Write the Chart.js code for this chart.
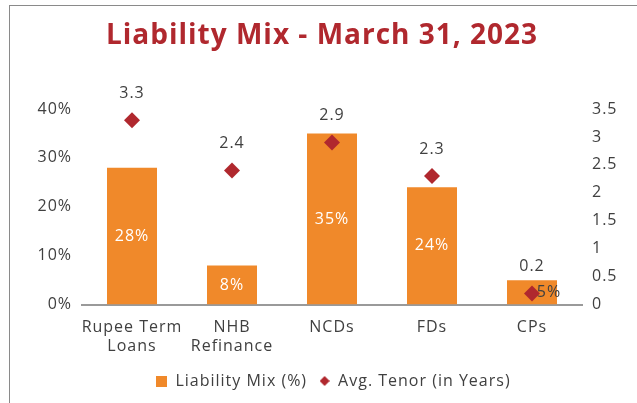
<!DOCTYPE html>
<html>
<head>
<meta charset="utf-8">
<script src="https://cdn.jsdelivr.net/npm/chart.js@4"></script>
<style>
  html, body { margin: 0; padding: 0; background: #fff; }
  #wrap { position: relative; width: 637px; height: 403px; }
  #frame { position: absolute; left: 9px; top: 5px; right: -5px; bottom: -5px; border: 1.5px solid #8a8a8a; }
  canvas { position: absolute; left: 0; top: 0; }
</style>
</head>
<body>
<div id="wrap">
  <div id="frame"></div>
  <canvas id="mixChart" width="637" height="403"></canvas>
</div>
<script>
// data
const categories = [['Rupee Term', 'Loans'], ['NHB', 'Refinance'], 'NCDs', 'FDs', 'CPs'];
const liabilityMix = [28, 8, 35, 24, 5];
const avgTenor = [3.3, 2.4, 2.9, 2.3, 0.2];
const mixTicks = [0, 10, 20, 30, 40];
const tenorTicks = [0, 0.5, 1, 1.5, 2, 2.5, 3, 3.5];
const chartTitle = 'Liability Mix - March 31, 2023';

const orange = '#F0892A';
const darkRed = '#B0282E';
const textGrey = '#404040';
const font = '"Open Sans", Lato, sans-serif';

// small legend markers
function marker(size, diamond, color) {
    const c = document.createElement('canvas');
    c.width = size;
    c.height = size;
    const g = c.getContext('2d');
    g.fillStyle = color;
    if (diamond) {
        g.beginPath();
        g.moveTo(size / 2, 0);
        g.lineTo(size, size / 2);
        g.lineTo(size / 2, size);
        g.lineTo(0, size / 2);
        g.closePath();
        g.fill();
    } else {
        g.fillRect(0, 0, size, size);
    }
    return c;
}
const legendMarkers = [marker(11, false, orange), marker(10, true, darkRed)];

// the reference font is wider, so space letters out a bit
const spacing = {
    id: 'spacing',
    beforeLayout(chart) { chart.ctx.letterSpacing = '1px'; },
    afterLayout(chart) {
        // legend sits a little right of centre
        chart.legend.left += 12;
        chart.legend.right += 12;
    },
    beforeDraw(chart) { chart.ctx.letterSpacing = '1px'; }
};

// title + value labels on bars and diamonds
const valueLabels = {
    id: 'valueLabels',
    afterDatasetsDraw(chart) {
        const ctx = chart.ctx;
        ctx.save();
        ctx.font = '16px ' + font;
        ctx.textAlign = 'center';
        ctx.textBaseline = 'middle';

        const barMeta = chart.getDatasetMeta(0);
        barMeta.data.forEach((bar, i) => {
            const v = liabilityMix[i];
            const y = (bar.y + bar.base) / 2;
            if (v < 6) {
                ctx.fillStyle = textGrey;
                ctx.fillText(v + '%', bar.x + 17, y);
            } else {
                ctx.fillStyle = '#fff';
                ctx.fillText(v + '%', bar.x, y);
            }
        });

        const lineMeta = chart.getDatasetMeta(1);
        ctx.fillStyle = textGrey;
        lineMeta.data.forEach((pt, i) => {
            ctx.fillText(avgTenor[i].toFixed(1), pt.x, pt.y - 27);
        });

        ctx.letterSpacing = '1px';
        ctx.font = 'bold 28px ' + font;
        ctx.fillStyle = darkRed;
        ctx.textBaseline = 'alphabetic';
        ctx.fillText(chartTitle, 322, 44);
        ctx.restore();
    }
};

const mixChart = new Chart(document.getElementById('mixChart').getContext('2d'), {
    data: {
        labels: categories,
        datasets: [{
            type: 'bar',
            label: 'Liability Mix (%)',
            data: liabilityMix,
            backgroundColor: orange,
            yAxisID: 'y',
            barPercentage: 0.5,
            categoryPercentage: 1.0,
            order: 2
        }, {
            type: 'line',
            label: 'Avg. Tenor (in Years)',
            data: avgTenor,
            yAxisID: 'y1',
            showLine: false,
            pointStyle: 'rectRot',
            pointRadius: 8,
            pointHoverRadius: 8,
            backgroundColor: darkRed,
            borderColor: darkRed,
            borderWidth: 0,
            order: 1
        }]
    },
    options: {
        responsive: false,
        animation: false,
        layout: {
            padding: { left: 18, right: 12, top: 109, bottom: 4 }
        },
        plugins: {
            title: { display: false },
            legend: {
                position: 'bottom',
                labels: {
                    usePointStyle: true,
                    boxWidth: 11,
                    boxHeight: 11,
                    color: textGrey,
                    font: { family: font, size: 16 },
                    padding: 12,
                    sort: (a, b) => a.datasetIndex - b.datasetIndex,
                    generateLabels: (chart) => {
                        const items = Chart.defaults.plugins.legend.labels.generateLabels(chart);
                        items.forEach(it => { it.pointStyle = legendMarkers[it.datasetIndex]; });
                        return items;
                    }
                }
            },
            tooltip: { enabled: false }
        },
        scales: {
            x: {
                grid: { display: false },
                border: { color: '#9a9a9a', width: 2 },
                ticks: {
                    color: textGrey,
                    font: { family: font, size: 16, lineHeight: 1.2 },
                    maxRotation: 0,
                    autoSkip: false,
                    padding: 5
                }
            },
            y: {
                position: 'left',
                min: 0,
                max: 40,
                grid: { display: false },
                border: { display: false },
                afterBuildTicks: (axis) => { axis.ticks = mixTicks.map(v => ({ value: v })); },
                afterFit: (axis) => { axis.width = 64; },
                ticks: {
                    color: textGrey,
                    font: { family: font, size: 16 },
                    padding: 2,
                    callback: (v) => v + '%'
                }
            },
            y1: {
                position: 'right',
                min: 0,
                max: 3.5,
                grid: { display: false },
                border: { display: false },
                afterBuildTicks: (axis) => { axis.ticks = tenorTicks.map(v => ({ value: v })); },
                afterFit: (axis) => { axis.width = 43; },
                ticks: {
                    color: textGrey,
                    font: { family: font, size: 16 },
                    padding: 2,
                    callback: (v) => String(v)
                }
            }
        }
    },
    plugins: [spacing, valueLabels]
});
</script>
</body>
</html>
